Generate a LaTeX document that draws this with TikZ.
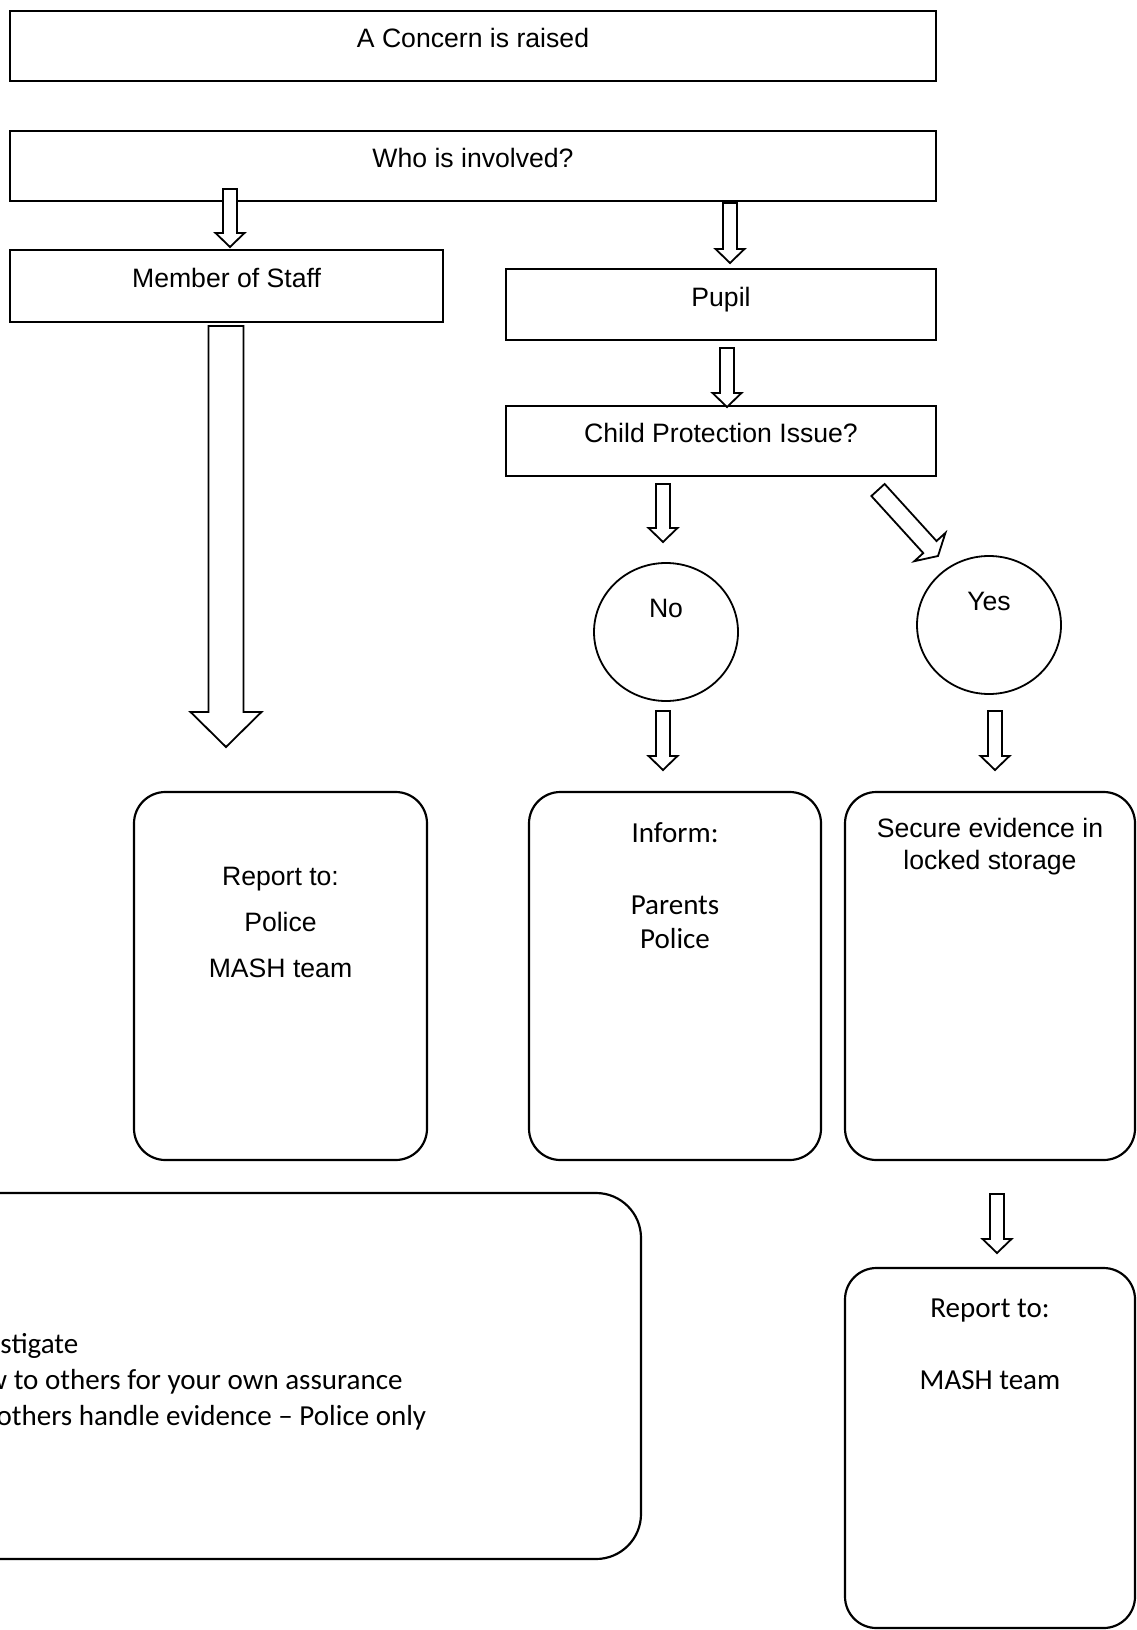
\documentclass[tikz,border=0pt]{standalone}
\usepackage{fontspec}
\setmainfont{Liberation Sans}
\newfontfamily\calibri{Carlito}
\usetikzlibrary{calc,positioning,shapes.geometric}
\def\pxu{0.4134pt} % one pixel of the scanned sheet
\tikzstyle{flowbox}=[draw,line width=0.9pt,rectangle,inner sep=0pt,text height=8pt,text depth=6.35pt,font=\fontsize{11}{13}\selectfont]
\tikzstyle{roundbox}=[draw,line width=0.9pt,rectangle,rounded corners=13pt,inner sep=0pt,minimum width=292*\pxu,minimum height=368*\pxu]
\tikzstyle{answer}=[draw,line width=0.75pt,ellipse,inner sep=0pt,minimum width=144*\pxu,minimum height=138*\pxu,text height=8pt,text depth=20.4pt,font=\fontsize{11}{13}\selectfont]
\tikzstyle{arialtext}=[inner sep=0pt,anchor=base,align=flush center,text width=150pt]
\tikzstyle{calibritext}=[inner sep=0pt,anchor=base,align=flush center,text width=150pt]
\tikzstyle{arrowline}=[draw,fill=white,line width=0.75pt,line join=miter]
\newcommand{\blockarrow}[5]{% Syntax: {from}{to}{half shaft}{half head}{head length}
  \coordinate (hb) at ($(#2)!#5!(#1)$);
  \draw[arrowline] ($(#1)!#3!90:(#2)$) -- ($(hb)!#3!90:(#2)$) -- ($(hb)!#4!90:(#2)$) -- (#2)
    -- ($(hb)!#4!-90:(#2)$) -- ($(hb)!#3!-90:(#2)$) -- ($(#1)!#3!-90:(#2)$) -- cycle;
}
\newcommand{\smallarrow}[2]{\blockarrow{#1}{#2}{2.9pt}{6pt}{5.8pt}}

\begin{document}
\begin{tikzpicture}[x=\pxu,y=-\pxu]
	\useasboundingbox (0,0) rectangle (1136,1630);
	% question boxes
	\node[flowbox,minimum width=926*\pxu,minimum height=70*\pxu] (concern) at (473,46) {A Concern is raised};
	\node[flowbox,minimum width=926*\pxu,minimum height=70*\pxu] (who) at (473,166) {Who is involved?};
	\node[flowbox,minimum width=433*\pxu,minimum height=72*\pxu] (staff) at (226.5,286) {Member of Staff};
	\node[flowbox,minimum width=430*\pxu,minimum height=71*\pxu] (pupil) at (721,304.5) {Pupil};
	\node[flowbox,minimum width=430*\pxu,minimum height=70*\pxu] (cp) at (721,441) {Child Protection Issue?};
	\node[answer] (no) at (666,632) {No};
	\node[answer] (yes) at (989,625) {Yes};
	% outcome boxes
	\node[roundbox,minimum width=293*\pxu] (report) at (280.5,976) {};
	\node[arialtext,font=\fontsize{11}{19}\selectfont] (reporttxt) at ($(report.north)+(0,95)$) {Report to:\\Police\\MASH team};
	\node[roundbox] (inform) at (675,976) {};
	\node[calibritext,font=\calibri\fontsize{12}{14.06}\selectfont] (informtxt) at ($(inform.north)+(0,51.5)$) {Inform:\\[15.7pt]Parents\\Police};
	\node[roundbox,minimum width=290*\pxu] (secure) at (990,976) {};
	\node[arialtext,font=\fontsize{11}{13}\selectfont] (securetxt) at ($(secure.north)+(0,47)$) {Secure evidence in\\locked storage};
	\node[roundbox,minimum width=290*\pxu,minimum height=360*\pxu] (mash) at (990,1448) {};
	\node[calibritext,font=\calibri\fontsize{12}{14.06}\selectfont] (mashtxt) at ($(mash.north)+(0,51)$) {Report to:\\[15.7pt]MASH team};
	\node[roundbox,rounded corners=18.6pt,minimum width=941*\pxu,minimum height=366*\pxu] (warn) at (170.5,1376) {};
	\node[calibritext,anchor=base west,align=flush left,text width=220pt,font=\calibri\fontsize{12}{14.9}\selectfont] (warntxt) at (0,1353)
		{stigate\\\hspace*{-5.8pt}w to others for your own assurance\\\hspace*{-1.6pt}others handle evidence – Police only};
	% arrow ends
	\coordinate (a1) at (230,189); \coordinate (b1) at (230,247);
	\coordinate (a2) at (730,203); \coordinate (b2) at (730,263);
	\coordinate (a3) at (226,326); \coordinate (b3) at (226,747);
	\coordinate (a4) at (727,348); \coordinate (b4) at (727,407);
	\coordinate (a5) at (663,484); \coordinate (b5) at (663,542);
	\coordinate (a6) at (878,490); \coordinate (b6) at (938,556);
	\coordinate (a7) at (663,711); \coordinate (b7) at (663,770);
	\coordinate (a8) at (995,711); \coordinate (b8) at (995,770);
	\coordinate (a9) at (997,1194); \coordinate (b9) at (997,1253);
	\smallarrow{a1}{b1}
	\smallarrow{a2}{b2}
	\blockarrow{a3}{b3}{7.2pt}{14.7pt}{14.5pt} % long one for staff
	\smallarrow{a4}{b4}
	\smallarrow{a5}{b5}
	\blockarrow{a6}{b6}{3.7pt}{8.7pt}{5pt}
	\smallarrow{a7}{b7}
	\smallarrow{a8}{b8}
	\smallarrow{a9}{b9}
\end{tikzpicture}
\end{document}
